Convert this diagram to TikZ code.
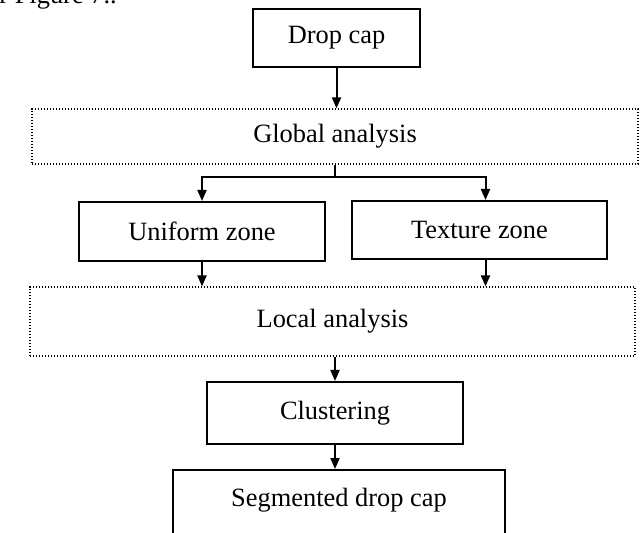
\documentclass[tikz,border=0pt]{standalone}
\usepackage{fontspec}
\setmainfont{Liberation Serif}
\usetikzlibrary{arrows.meta, positioning}
\tikzset{
  line/.style={draw=black, line width=1pt},
  arrow/.style={draw=black, line width=1pt, -{Triangle[length=5.5pt, width=4.5pt]}},
  block/.style={draw=black, line width=1pt, rectangle, align=center, font=\fontsize{13.2}{15}\selectfont},
  dotbox/.style={draw=black, line width=0.6pt, dash pattern=on 0.6pt off 0.9pt, rectangle, align=center, font=\fontsize{13.2}{15}\selectfont}
}
\begin{document}
\begin{tikzpicture}[x=0.5pt, y=-0.5pt]
  \useasboundingbox (0,0) rectangle (641,533);
  \node [anchor=base west, inner sep=0, font=\fontsize{13.2}{15}\selectfont] (fig) at (-1,4) {r Figure 7..};

  \node [block, minimum width=83.5pt, minimum height=29pt] (drop) at (336.5,38) {Drop cap};
  \node [dotbox, minimum width=303pt, minimum height=27.5pt] (global) at (335,136.5) {Global analysis};
  \node [block, minimum width=123pt, minimum height=29.5pt] (uniform) at (202,231.5) {Uniform zone};
  \node [block, minimum width=127.5pt, minimum height=29pt] (texture) at (479.5,230) {Texture zone};
  \node [dotbox, minimum width=302.5pt, minimum height=34.5pt] (local) at (332.5,321.5) {Local analysis};
  \node [block, minimum width=128pt, minimum height=31pt] (clust) at (335,413) {Clustering};
  \node [block, anchor=north, minimum width=166pt, inner ysep=0pt, text height=18pt, text depth=20pt] (seg) at (339,469) {Segmented drop cap};
  \coordinate (split) at (335,177);

  \draw [arrow] (drop.south) -- (drop.south |- global.north);
  \draw [line] (split |- global.south) -- (split);
  \draw [arrow] (split) -| (uniform.north);
  \draw [arrow] (split) -| ([xshift=3pt]texture.north);
  \draw [arrow] (uniform.south) -- (uniform.south |- local.north);
  \draw [arrow] ([xshift=3pt]texture.south) -- ([xshift=3pt]texture.south |- local.north);
  \draw [arrow] (local.south -| clust) -- (clust.north);
  \draw [arrow] (clust.south) -- (clust.south |- seg.north);
\end{tikzpicture}
\end{document}
